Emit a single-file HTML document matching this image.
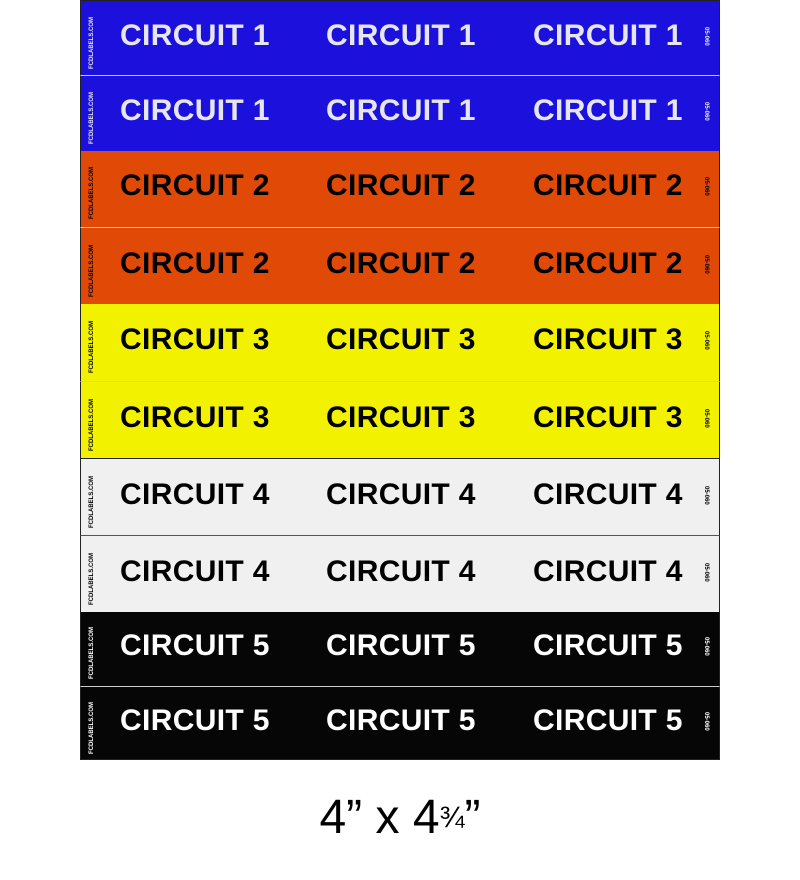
<!DOCTYPE html>
<html><head><meta charset="utf-8"><style>
body{margin:0;width:800px;height:880px;background:#fff;position:relative;overflow:hidden;font-family:"Liberation Sans",Arial,sans-serif}
.r{position:absolute;left:80px;width:640px;box-sizing:border-box;border-left:1px solid #222;border-right:1px solid #222}
.t{position:absolute;font-weight:bold;font-size:30px;line-height:30px;white-space:nowrap;letter-spacing:0.35px}
.l{position:absolute;left:8px;font-size:6px;font-weight:bold;transform-origin:0 0;transform:rotate(-90deg);white-space:nowrap}
.n{position:absolute;left:628px;font-size:6px;font-weight:bold;transform-origin:0 0;transform:rotate(90deg);white-space:nowrap}
</style></head><body>
<div id="c"></div>
<script>
var rows=[[0,75,'#1b10dc','#e6e6f0',1],[75,76,'#1b10dc','#e6e6f0',1],[151,76,'#e04a06','#000',2],[227,77,'#e04a06','#000',2],[304,77,'#f2f200','#000',3],[381,77,'#f2f200','#000',3],[458,77,'#f0f0f0','#000',4],[535,77,'#f0f0f0','#000',4],[612,74,'#060606','#fff',5],[686,74,'#060606','#fff',5]];
var h='';
rows.forEach(function(r,i){
 var bt=i==0?'border-top:1px solid #222;':'';
 var sep=(i%2==1)?'border-top:1px solid '+(i==7?'#555':'#ccc')+';':'';
 if(i==6)sep='border-top:1px solid #222;';
 var bb=i==9?'border-bottom:1px solid #222;':'';
 h+='<div class="r" style="top:'+r[0]+'px;height:'+r[1]+'px;background:'+r[2]+';color:'+r[3]+';'+bt+sep+bb+'">';
 var cy=r[1]/2-18;
 [39,245,452].forEach(function(x){h+='<div class="t" style="left:'+x+'px;top:'+cy+'px">CIRCUIT '+r[4]+'</div>';});
 h+='<div class="l" style="top:'+(r[1]/2+30)+'px">FCDLABELS.COM</div>';
 h+='<div class="n" style="top:'+(r[1]/2-12)+'px">05-060</div>';
 h+='</div>';
});
document.getElementById('c').innerHTML=h;
</script>
<div style="position:absolute;left:0;width:800px;top:790px;text-align:center;font-size:48px;line-height:56px;color:#000">4” x 4<span style="font-size:30px;vertical-align:6px">¾</span>”</div>
</body></html>
